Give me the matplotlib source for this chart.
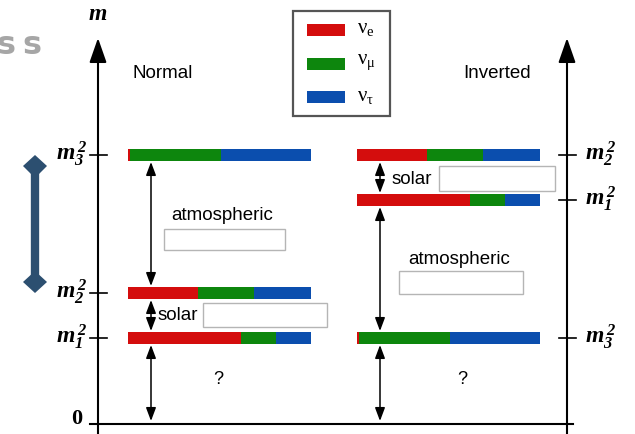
# Neutrino mass ordering diagram: normal vs inverted hierarchy
import matplotlib; matplotlib.use('Agg')
import matplotlib.pyplot as plt
from matplotlib.patches import Rectangle, Polygon

RED, GREEN, BLUE = '#d40d0d', '#0d860d', '#0b4eae'
FLAVORS = [r'$\mathregular{\nu_e}$', r'$\mathregular{\nu_\mu}$', r'$\mathregular{\nu_\tau}$']
FCOLS = [RED, GREEN, BLUE]

# flavour content (e, mu, tau) of each mass state
MIX = {'1': [0.62, 0.19, 0.19],
       '2': [0.38, 0.31, 0.31],
       '3': [0.01, 0.50, 0.49]}
# squared-mass level heights (px above zero line)
NORMAL = {'3': 269, '2': 131, '1': 86}
INVERTED = {'2': 269, '1': 224, '3': 86}

def Y(p): return 424 - p          # pixel row -> data y

fig = plt.figure(figsize=(6.35, 4.34), dpi=100)
ax = fig.add_axes([0, 0, 1, 1]); ax.set_xlim(0, 635); ax.set_ylim(Y(434), Y(0)); ax.axis('off')

SERIF = 'Liberation Serif'; SANS = 'Liberation Sans'
mlab = dict(family=SERIF, fontweight='bold', fontstyle='italic', fontsize=17)

# axes
for xa in (98, 567):
    ax.annotate('', xy=(xa, Y(38)), xytext=(xa, Y(434)),
                arrowprops=dict(arrowstyle='-|>,head_width=0.35,head_length=1.0', color='k', lw=1.5,
                                mutation_scale=15, shrinkA=0, shrinkB=0))
ax.plot([90, 573], [0, 0], color='k', lw=1.5)
ax.text(98, Y(15), 'm', ha='center', va='center', family=SERIF, fontweight='bold',
        fontstyle='italic', fontsize=17)
ax.text(82, Y(419), '0', ha='right', va='center', family=SERIF, fontweight='bold', fontsize=16)
ax.text(133, Y(73), 'Normal', ha='left', va='center', family=SANS, fontsize=13.5)
ax.text(463, Y(73), 'Inverted', ha='left', va='center', family=SANS, fontsize=13.5)

BAR_LEN = 183
def draw_levels(levels, x0, xaxis, side):
    for k, lev in levels.items():
        left = x0
        for frac, c in zip(MIX[k], FCOLS):
            ax.barh(lev, frac * BAR_LEN, left=left, height=12, color=c, edgecolor='none')
            left += frac * BAR_LEN
        ax.plot([xaxis - 8, xaxis + 9], [lev, lev], color='k', lw=1.2)
        lab = r'$\mathregular{m_%s^{\,2}}$' % k
        if side == 'left':
            ax.text(xaxis - 11, lev + 1, lab, ha='right', va='center', **mlab)
        else:
            ax.text(xaxis + 18, lev + 1, lab, ha='left', va='center', **mlab)

draw_levels(NORMAL, 128, 98, 'left')
draw_levels(INVERTED, 357, 567, 'right')

def darrow(x, y1, y2):
    ax.annotate('', xy=(x, y2), xytext=(x, y1),
                arrowprops=dict(arrowstyle='<|-|>,head_width=0.3,head_length=0.8', color='k', lw=1.1,
                                mutation_scale=10, shrinkA=0, shrinkB=0))

def tbox(x, y, w, h):
    ax.add_patch(Rectangle((x, Y(y + h)), w, h, fill=False, edgecolor='#b5b5b5', lw=1))

# normal gaps
darrow(151, NORMAL['3'] - 7, NORMAL['2'] + 7)
darrow(151, NORMAL['2'] - 7, NORMAL['1'] + 7)
darrow(151, NORMAL['1'] - 7, 3)
ax.text(222, Y(215), 'atmospheric', ha='center', va='center', family=SANS, fontsize=13.5)
tbox(164, 229, 121, 21)
ax.text(178, Y(316), 'solar', ha='center', va='center', family=SANS, fontsize=13.5)
tbox(203, 303, 124, 24)
ax.text(218, Y(380), '?', ha='center', va='center', family=SANS, fontsize=13)

# inverted gaps
darrow(380, INVERTED['2'] - 7, INVERTED['1'] + 7)
darrow(380, INVERTED['1'] - 7, INVERTED['3'] + 7)
darrow(380, INVERTED['3'] - 7, 3)
ax.text(412, Y(180), 'solar', ha='center', va='center', family=SANS, fontsize=13.5)
tbox(439, 166, 116, 25)
ax.text(459, Y(259), 'atmospheric', ha='center', va='center', family=SANS, fontsize=13.5)
tbox(399, 271, 124, 23)
ax.text(462, Y(380), '?', ha='center', va='center', family=SANS, fontsize=13)

# legend
ax.add_patch(Rectangle((293, Y(116)), 97, 105, fill=False, edgecolor='#555555', lw=1.6))
for i, (lab, c) in enumerate(zip(FLAVORS, FCOLS)):
    yy = Y(30 + 33.5 * i)
    ax.add_patch(Rectangle((307, yy - 6), 38, 12, color=c, lw=0))
    ax.text(357, yy + 1, lab, ha='left', va='center', family=SERIF, fontsize=15)

# cropped slide title fragment (letter-spaced, cut at the left edge) and range marker
GREY = '#a6a6a6'
for xs in (6, 32):
    ax.text(xs, Y(46), 's', ha='center', va='center', family='DejaVu Sans', fontweight='bold',
            fontsize=23, color=GREY)
NAVY = '#2c4f70'
ax.plot([35, 35], [Y(170), Y(280)], color=NAVY, lw=6, solid_capstyle='butt')
ax.add_patch(Polygon([(35, Y(155)), (47, Y(166)), (35, Y(178)), (23, Y(166))], color=NAVY, lw=0))
ax.add_patch(Polygon([(35, Y(271)), (47, Y(282)), (35, Y(293)), (23, Y(282))], color=NAVY, lw=0))

fig.savefig('out.png', dpi=100)
